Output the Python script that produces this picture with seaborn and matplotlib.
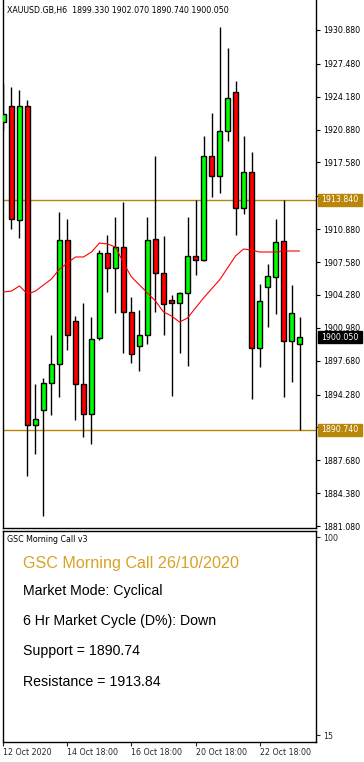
import numpy as np
import pandas as pd
import matplotlib
matplotlib.use("Agg")
import matplotlib.pyplot as plt
import matplotlib.transforms as mtransforms
from matplotlib.patches import Rectangle
import seaborn as sns

# ---------------- data ----------------
opens = [1921.64, 1923.25, 1911.80, 1923.25, 1891.22, 1892.73, 1895.44, 1897.35,
         1909.80, 1901.66, 1895.34, 1892.33, 1899.96, 1908.49, 1906.98, 1909.09,
         1902.57, 1899.15, 1900.26, 1909.90, 1906.48, 1903.77, 1903.47, 1904.47,
         1908.19, 1907.79, 1918.23, 1916.22, 1920.74, 1924.66, 1913.01, 1916.62,
         1898.95, 1905.08, 1906.08, 1909.70, 1899.66, 1899.33]
highs = [1925.46, 1925.16, 1924.86, 1923.85, 1895.34, 1895.94, 1900.26, 1912.61,
         1911.90, 1902.17, 1903.47, 1902.06, 1908.79, 1910.30, 1912.10, 1913.61,
         1904.07, 1902.77, 1912.10, 1918.23, 1910.20, 1904.27, 1904.57, 1912.10,
         1913.81, 1920.24, 1922.55, 1931.18, 1929.07, 1925.76, 1920.24, 1918.63,
         1905.38, 1907.39, 1911.90, 1913.84, 1905.28, 1902.07]
lows = [1920.84, 1910.90, 1910.00, 1886.10, 1888.31, 1882.08, 1892.23, 1894.03,
        1898.75, 1891.72, 1890.02, 1889.31, 1899.76, 1904.57, 1902.47, 1898.45,
        1897.45, 1896.64, 1899.35, 1902.57, 1900.26, 1894.13, 1898.45, 1897.15,
        1906.28, 1907.69, 1914.11, 1914.51, 1919.74, 1910.30, 1912.41, 1893.83,
        1897.04, 1901.06, 1902.37, 1894.03, 1895.54, 1890.74]
closes = [1922.45, 1911.90, 1923.25, 1891.22, 1891.82, 1895.44, 1897.35, 1909.80,
          1900.26, 1895.34, 1892.33, 1899.86, 1908.49, 1906.98, 1909.09, 1902.57,
          1898.35, 1900.26, 1909.80, 1906.48, 1903.37, 1903.47, 1904.47, 1908.19,
          1907.79, 1918.23, 1916.22, 1920.74, 1924.05, 1913.01, 1916.62, 1898.95,
          1903.67, 1906.18, 1909.59, 1899.66, 1902.47, 1900.05]
ma_values = [1904.57, 1904.67, 1905.18, 1904.37, 1904.67, 1905.28, 1905.88, 1906.88,
             1907.49, 1908.09, 1908.09, 1908.59, 1909.49, 1909.39, 1909.09, 1907.49,
             1906.08, 1905.28, 1904.47, 1903.67, 1902.57, 1902.17, 1901.56, 1901.96,
             1902.97, 1903.97, 1904.88, 1905.78, 1906.98, 1908.19, 1908.89, 1908.79,
             1908.59, 1908.59, 1908.59, 1908.69, 1908.69, 1908.69]
price_ticks = [1930.880, 1927.480, 1924.180, 1920.880, 1917.580, 1914.180, 1910.880,
               1907.580, 1904.280, 1900.980, 1897.680, 1894.280, 1890.980, 1887.680,
               1884.380, 1881.080]
date_tick_idx = [0, 8, 16, 24, 32]
date_tick_labels = ["12 Oct 2020", "14 Oct 18:00", "16 Oct 18:00", "20 Oct 18:00", "22 Oct 18:00"]
support = 1890.74
resistance = 1913.84
last_price = 1900.05
header = "XAUUSD.GB,H6  1899.330 1902.070 1890.740 1900.050"
panel_name = "GSC Morning Call v3"
title_text = "GSC Morning Call 26/10/2020"
info_lines = ["Market Mode: Cyclical", "6 Hr Market Cycle (D%): Down",
              "Support = 1890.74", "Resistance = 1913.84"]
sub_ticks = [100, 15]

# ---------------- style ----------------
sns.set_style("white")
plt.rcParams['font.family'] = ['DejaVu Sans']
GOLD = '#B8860B'
TITLE_GOLD = '#D8A224'
small = 5.7

W, H = 364, 762
fig = plt.figure(figsize=(W / 100, H / 100), dpi=100)
fig.patch.set_facecolor('white')

def px_axes(l, t, r, b):
    return fig.add_axes([l / W, (H - b) / H, (r - l) / W, (b - t) / H])

ax = px_axes(3, 0, 316, 528)
ax2 = px_axes(3, 531, 316, 742)

df = pd.DataFrame({'i': np.arange(len(opens)), 'open': opens, 'high': highs,
                   'low': lows, 'close': closes, 'ma': ma_values})
df['up'] = df['close'] >= df['open']
df['bottom'] = df[['open', 'close']].min(axis=1)
df['height'] = (df['open'] - df['close']).abs()

# wicks
ax.vlines(df['i'], df['low'], df['high'], color='black', linewidth=1.0, zorder=2)
# bodies
colors = np.where(df['up'], '#00FF00', '#FF0000')
ax.bar(df['i'], df['height'], bottom=df['bottom'], width=0.66, color=colors,
       edgecolor='black', linewidth=1.0, zorder=3)

# moving average
sns.lineplot(data=df, x='i', y='ma', ax=ax, color='#FF0000', linewidth=0.8, zorder=4)

# support / resistance
for lvl in (support, resistance):
    ax.axhline(lvl, color=GOLD, linewidth=1.0, zorder=1)

ax.set_xlim(-0.06, 39.06)
ax.set_ylim(1880.88, 1933.89)
ax.set_xlabel('')
ax.set_ylabel('')
ax.set_xticks([])
ax.yaxis.tick_right()
ax.set_yticks(price_ticks)
# labels hidden behind the price boxes in the reference are left blank
hidden = {round(resistance, 0), round(support, 0)}
ax.set_yticklabels(["" if (abs(v - resistance) < 1.0 or abs(v - support) < 1.0) else f"{v:.3f}"
                    for v in price_ticks])
ax.tick_params(axis='y', which='both', direction='out', length=3, width=0.8,
               labelsize=small, pad=2, colors='black', right=True, left=False)
ax.spines['top'].set_visible(False)
for s in ['left', 'right', 'bottom']:
    ax.spines[s].set_visible(True)
    ax.spines[s].set_color('black')
    ax.spines[s].set_linewidth(1.0)

# price boxes on axis
trans = mtransforms.blended_transform_factory(ax.transAxes, ax.transData)
box_w = 44 / 313
box_h = 12 / 9.96
for val, fc in ((resistance, GOLD), (last_price, 'black'), (support, GOLD)):
    ax.add_patch(Rectangle((1.0 + 2 / 313, val - box_h / 2), box_w, box_h,
                           transform=trans, facecolor=fc, edgecolor=fc,
                           clip_on=False, zorder=6))
    ax.text(1.0 + 5 / 313, val, f"{val:.3f}", transform=trans, ha='left', va='center',
            color='white', fontsize=small, clip_on=False, zorder=7)

# header
fig.text(7 / W, 1 - 13 / H, header, ha='left', va='baseline', fontsize=small, color='black')

# ---------------- sub panel ----------------
ax2.set_xlim(-0.06, 39.06)
ax2.set_ylim(12.0, 102.6)
ax2.yaxis.tick_right()
ax2.set_yticks(sub_ticks)
ax2.set_yticklabels([str(v) for v in sub_ticks])
ax2.tick_params(axis='y', direction='out', length=3, width=0.8, labelsize=small,
                pad=2, right=True, left=False)
ax2.set_xticks(date_tick_idx)
ax2.set_xticklabels(date_tick_labels, ha='left')
ax2.tick_params(axis='x', direction='out', length=3, width=0.8, labelsize=small,
                pad=1, bottom=True)
for s in ax2.spines.values():
    s.set_visible(True)
    s.set_color('black')
    s.set_linewidth(1.0)

fig.text(7 / W, 1 - 542 / H, panel_name, ha='left', va='baseline', fontsize=small, color='black')
fig.text(23 / W, 1 - 568 / H, title_text, ha='left', va='baseline', fontsize=11.6,
         color=TITLE_GOLD, family=['Liberation Sans'])
for txt, base in zip(info_lines, [595, 625, 655, 686]):
    fig.text(23 / W, 1 - base / H, txt, ha='left', va='baseline', fontsize=10.2,
             color='black', family=['Liberation Sans'])

fig.savefig('out.png', dpi=100, facecolor='white')
